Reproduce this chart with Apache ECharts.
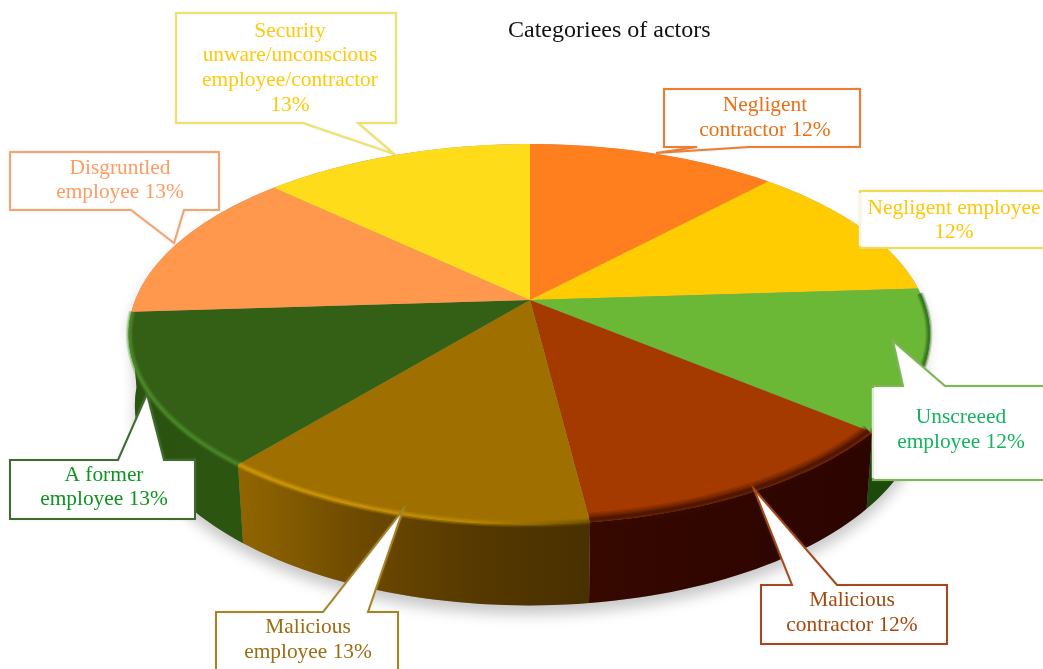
<!DOCTYPE html>
<html><head><meta charset="utf-8">
<style>html,body{margin:0;padding:0;background:#fff}#c{width:1043px;height:669px}</style>
<script src="https://cdn.jsdelivr.net/npm/echarts@6/dist/echarts.min.js"></script>
</head><body><div id="c"></div>
<script>
// ---- data ----
const chartTitle = "Categoriees of actors";
const categories = ["Negligent contractor","Negligent employee","Unscreeed employee","Malicious contractor","Malicious employee","A former employee","Disgruntled employee","Security unware/unconscious employee/contractor"];
const values = [12,12,12,12,13,13,13,13];
const labelTexts = ["Negligent\ncontractor ","Negligent employee\n","Unscreeed\nemployee ","Malicious\ncontractor ","Malicious\nemployee ","A former\nemployee ","Disgruntled\nemployee ","Security\nunware/unconscious\nemployee/contractor\n"];

// ---- styles ----
const topColors = ["#FF7E1E","#FFCC02","#6BB736","#A53A00","#9F7000","#336015","#FF974D","#FFDC1A"];
const wallStops = [null,null,["#1c4a0a","#1c4a0a"],["#360800","#2c0400"],["#906500","#6e4a00","#563900","#483000"],["#2a5210","#2c5610"],null,null];
const rimStops  = [null,null,["#1f5410","#2f6a18"],["#3a0c00","#3a0c00"],["#d49c08","#d09808","#bc8a00","#6a4c00"],["#4f8f2a","#4a8a26"],null,null];
const borderColors = ["#ED7D31","#F0DC50","#7DB653","#A5491B","#A58424","#3F6B2E","#F4A46E","#F0E264"];
const textColors = ["#EA6F14","#FFC60A","#12B45E","#A3480F","#9C6B12","#0C9420","#FF9C62","#FFC90A"];
// callout layout: box [left, top, right, bottom], pointer base [x1, x2] on edge, tip [x, y]
const callouts = [
  {box:[664,89,860,147],  edge:"bottom", base:[697,749], tip:[656,153], cx:765, ys:[105,130]},
  {box:[860,191,1052,248],edge:null,     cx:954, ys:[208,232], fade:true},
  {box:[873,386,1052,480],edge:"top",    base:[903,945], tip:[893,341], cx:961, ys:[417,442], fade:true},
  {box:[761,585,947,644], edge:"top",    base:[792,837], tip:[754,489], cx:852, ys:[600,625]},
  {box:[216,612,398,684], edge:"top",    base:[323,368], tip:[403,510], cx:308, ys:[627,652]},
  {box:[10,460,195,519],  edge:"top",    base:[118,164], tip:[147,394], cx:104, ys:[475,499]},
  {box:[10,152,219,210],  edge:"bottom", base:[131,184], tip:[174,243], cx:120, ys:[168,192]},
  {box:[176,13,396,123],  edge:"bottom", base:[303,358], tip:[394,154], cx:290, ys:[31,55,80,105]}
];
const FONT = "'Liberation Serif','Times New Roman',serif";

// ---- perspective projection of the pie disc ----
const CX=530, CY=300, A=394, B=184, P=0.18, Q=0.002, DEPTH=70, BASE_R=0.985;
const rad = d => d*Math.PI/180;
function proj(deg, r, drop){
  const s=Math.sin(rad(deg))*r, c=Math.cos(rad(deg))*r, w=1+P*c+Q*s;
  return [CX+A*s/w, CY-B*c/w+(drop?DEPTH/w:0)];
}
const total = values.reduce((a,b)=>a+b,0);
let acc=0;
const ranges = values.map(v=>{const a=acc/total*360; acc+=v; return [a,acc/total*360];});
function arc(a0,a1,r,drop){
  const pts=[], n=Math.max(2,Math.ceil(Math.abs(a1-a0)/1.5));
  for(let i=0;i<=n;i++) pts.push(proj(a0+(a1-a0)*i/n,r,drop));
  return pts;
}
const WALL=[95,265], RIM=[88,268];
const globalGrad=(x0,x1,stops)=>({type:'linear',global:true,x:x0,y:0,x2:x1,y2:0,
  colorStops:stops.map((c,i)=>({offset:i/(stops.length-1),color:c}))});
const clip=(r,lim)=>{const a=Math.max(r[0],lim[0]),b=Math.min(r[1],lim[1]);return a<b?[a,b]:null;};

function renderShadow(){
  const pts=arc(WALL[0],WALL[1],BASE_R,true).concat(arc(WALL[1],WALL[0]+360,1,false));
  return {type:'polygon',shape:{points:pts},style:{fill:'#999',shadowBlur:14,shadowOffsetY:9,shadowColor:'rgba(0,0,0,0.22)'}};
}
function renderWall(p,api){
  const i=api.value(0), c=clip(ranges[i],WALL);
  if(!c||!wallStops[i]) return null;
  const bottom=arc(c[0],c[1],BASE_R,true), top=arc(c[1],c[0],1,false);
  const xs=bottom.map(q=>q[0]);
  return {type:'polygon',shape:{points:bottom.concat(top)},
    style:{fill:globalGrad(Math.min(...xs),Math.max(...xs),wallStops[i])}};
}
function renderTop(p,api){
  const i=api.value(0), r=ranges[i];
  return {type:'polygon',shape:{points:[[CX,CY]].concat(arc(r[0],r[1],1,false))},
    style:{fill:topColors[i]}};
}
function renderRim(p,api){
  const i=api.value(0), c=clip(ranges[i],RIM);
  if(!c||!rimStops[i]) return null;
  const soft=i===3;
  const pts=arc(c[0],c[1],soft?0.99:0.998,false), xs=pts.map(q=>q[0]);
  const g=globalGrad(Math.min(...xs),Math.max(...xs),rimStops[i]);
  const layers=soft?[[14,0.18],[10,0.25],[6,0.35],[3,0.45]]:[[7,0.25],[4.5,0.4],[2,0.6]];
  return {type:'group',children:layers.map(l=>({type:'polyline',shape:{points:pts},
    style:{fill:null,stroke:g,lineWidth:l[0],opacity:l[1]}}))};
}
function renderCallout(p,api){
  const i=api.value(0), k=callouts[i], b=k.box;
  let pts=[[b[0],b[1]]];
  if(k.edge==="top") pts.push([k.base[0],b[1]],k.tip,[k.base[1],b[1]]);
  pts.push([b[2],b[1]],[b[2],b[3]]);
  if(k.edge==="bottom") pts.push([k.base[1],b[3]],k.tip,[k.base[0],b[3]]);
  pts.push([b[0],b[3]]);
  const lines=(labelTexts[i]+values[i]+"%").split("\n");
  const children=[{type:'polygon',shape:{points:pts},style:{fill:'#fff',stroke:borderColors[i],lineWidth:2,
    shadowBlur:2,shadowColor:'rgba(150,150,150,0.25)'}}];
  if(k.fade) children.push({type:'line',shape:{x1:b[0],y1:b[1]+2,x2:b[0],y2:b[3]-2},style:{stroke:'#fff',lineWidth:2.5,opacity:0.75}});
  lines.forEach((t,j)=>children.push({type:'text',style:{text:t,x:k.cx,y:k.ys[j],fill:textColors[i],
    font:"21.4px "+FONT,align:'center',verticalAlign:'middle'}}));
  return {type:'group',children};
}
const idx=values.map((_,i)=>[i]);
const layer=(fn,z,data)=>({type:'custom',coordinateSystem:'none',renderItem:fn,data:data||idx,z,silent:true,animation:false,clip:false});

const chart=echarts.init(document.getElementById('c'),null,{renderer:'canvas'});
chart.setOption({
  animation:false,
  backgroundColor:'#fff',
  title:{text:chartTitle,left:508,top:19,padding:0,textStyle:{fontFamily:FONT,fontSize:24,fontWeight:'normal',color:'#111'}},
  series:[
    layer(renderShadow,1,[[0]]),
    layer(renderWall,2),
    layer(renderTop,3),
    layer(renderRim,4),
    layer(renderCallout,5)
  ]
});
</script></body></html>
